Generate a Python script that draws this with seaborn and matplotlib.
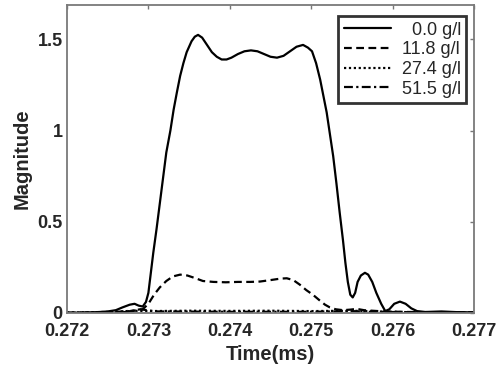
import numpy as np
import pandas as pd
import matplotlib
matplotlib.use("Agg")
import matplotlib.pyplot as plt
import seaborn as sns
from matplotlib.ticker import FormatStrFormatter, FuncFormatter

# ---- data ----
t_00 = [0.2720, 0.2723, 0.2725, 0.2726, 0.27268, 0.27277, 0.27283, 0.27288, 0.27293, 0.27297,
        0.27300, 0.27303, 0.27306, 0.27310, 0.27314, 0.27318, 0.27322, 0.27327, 0.27331, 0.27335,
        0.27339, 0.27343, 0.27347, 0.27353, 0.27357, 0.27361, 0.27366, 0.27372, 0.27378, 0.27384,
        0.27390, 0.27396, 0.27402, 0.27410, 0.27418, 0.27426, 0.27434, 0.27442, 0.27450, 0.27458,
        0.27466, 0.27474, 0.27482, 0.27490, 0.27496, 0.27501, 0.27506, 0.27511, 0.27515, 0.27519,
        0.27523, 0.27527, 0.27531, 0.27535, 0.27539, 0.27542, 0.27545, 0.27548, 0.27551, 0.27554,
        0.27557, 0.27561, 0.27566, 0.27570, 0.27575, 0.27580, 0.27586, 0.27591, 0.27596, 0.27602,
        0.27609, 0.27616, 0.27623, 0.27630, 0.27640, 0.27660, 0.27680, 0.27700]
m_00 = [0.0, 0.002, 0.008, 0.015, 0.03, 0.045, 0.05, 0.04, 0.035, 0.06,
        0.11, 0.22, 0.33, 0.46, 0.60, 0.74, 0.88, 1.00, 1.115, 1.21,
        1.30, 1.37, 1.43, 1.49, 1.515, 1.525, 1.51, 1.47, 1.43, 1.405,
        1.39, 1.39, 1.40, 1.42, 1.435, 1.44, 1.435, 1.42, 1.405, 1.40,
        1.41, 1.435, 1.46, 1.47, 1.455, 1.435, 1.37, 1.28, 1.19, 1.10,
        0.98, 0.86, 0.71, 0.55, 0.40, 0.275, 0.17, 0.10, 0.085, 0.11,
        0.17, 0.205, 0.22, 0.21, 0.17, 0.11, 0.05, 0.01, 0.02, 0.05,
        0.062, 0.05, 0.025, 0.01, 0.005, 0.008, 0.004, 0.003]

t_118 = [0.2720, 0.2725, 0.2728, 0.27293, 0.27300, 0.27307, 0.27314, 0.27322, 0.27330, 0.27339,
         0.27348, 0.27358, 0.27367, 0.27380, 0.27395, 0.27410, 0.27425, 0.27437, 0.27450, 0.27462,
         0.27470, 0.27478, 0.27486, 0.27494, 0.27502, 0.27510, 0.27517, 0.27523, 0.27530, 0.27539,
         0.27548, 0.27556, 0.27565, 0.27575, 0.27590, 0.2762, 0.2770]
m_118 = [0.0, 0.004, 0.01, 0.02, 0.05, 0.10, 0.14, 0.175, 0.20, 0.21,
         0.205, 0.19, 0.175, 0.17, 0.168, 0.17, 0.17, 0.172, 0.18, 0.188,
         0.19, 0.18, 0.155, 0.125, 0.10, 0.07, 0.045, 0.03, 0.02, 0.015,
         0.018, 0.022, 0.015, 0.012, 0.008, 0.005, 0.003]

t_274 = [0.2720, 0.2726, 0.2728, 0.2730, 0.2735, 0.2740, 0.2745, 0.2750, 0.2755, 0.2758, 0.2762, 0.2770]
m_274 = [0.002, 0.006, 0.012, 0.010, 0.012, 0.011, 0.012, 0.010, 0.012, 0.008, 0.004, 0.002]

t_515 = [0.2720, 0.2727, 0.2729, 0.2731, 0.2740, 0.2750, 0.2755, 0.2757, 0.2770]
m_515 = [0.001, 0.004, 0.020, 0.008, 0.006, 0.006, 0.010, 0.006, 0.001]

labels = ["0.0 g/l", "11.8 g/l", "27.4 g/l", "51.5 g/l"]
legend_labels = ["  0.0 g/l", "11.8 g/l", "27.4 g/l", "51.5 g/l"]
x_ticks = [0.272, 0.273, 0.274, 0.275, 0.276, 0.277]
y_ticks = [0, 0.5, 1, 1.5]

frames = []
for lab, t, m in zip(labels, [t_00, t_118, t_274, t_515], [m_00, m_118, m_274, m_515]):
    frames.append(pd.DataFrame({"Time": t, "Magnitude": m, "conc": lab}))
df = pd.concat(frames, ignore_index=True)

sns.set_style("white")
plt.rcParams["font.family"] = ["Liberation Sans", "DejaVu Sans"]

fig = plt.figure(figsize=(5.0, 3.69), dpi=100)
ax = fig.add_axes([0.134, 0.152, 0.814, 0.835])

dash_map = {labels[0]: "", labels[1]: (3.5, 2.0), labels[2]: (1.0, 1.2), labels[3]: (4.0, 1.5, 1.0, 1.5)}
sns.lineplot(data=df, x="Time", y="Magnitude", style="conc", dashes=dash_map,
             color="black", estimator=None, sort=False, linewidth=1.6, ax=ax, legend=False)

ax.set_xlim(0.272, 0.277)
ax.set_ylim(0, 1.69)
ax.set_xticks(x_ticks)
ax.set_yticks(y_ticks)
ax.xaxis.set_major_formatter(FormatStrFormatter("%.3f"))
ax.yaxis.set_major_formatter(FuncFormatter(lambda v, p: "%g" % v))
ax.tick_params(direction="in", length=3, width=1, color="#777777", top=True, right=True,
               labelsize=13, pad=3)
ax.tick_params(axis="x", pad=7)
for lab in ax.get_xticklabels() + ax.get_yticklabels():
    lab.set_fontweight("bold")
for sp in ax.spines.values():
    sp.set_color("#7a7a7a")
    sp.set_linewidth(1.3)

ax.set_xlabel("Time(ms)", fontsize=14.5, fontweight="bold", labelpad=4)
ax.set_ylabel("Magnitude", fontsize=14.5, fontweight="bold", labelpad=4)

handles = ax.get_lines()[:4]
leg = ax.legend(handles, legend_labels, loc="upper right", bbox_to_anchor=(0.99, 0.975),
                fontsize=13, frameon=True, fancybox=False, handlelength=2.6,
                handletextpad=0.6, borderpad=0.3, labelspacing=0.15, borderaxespad=0.2)
leg.get_frame().set_edgecolor("black")
leg.get_frame().set_linewidth(2.0)

fig.savefig("out.png", dpi=100)
